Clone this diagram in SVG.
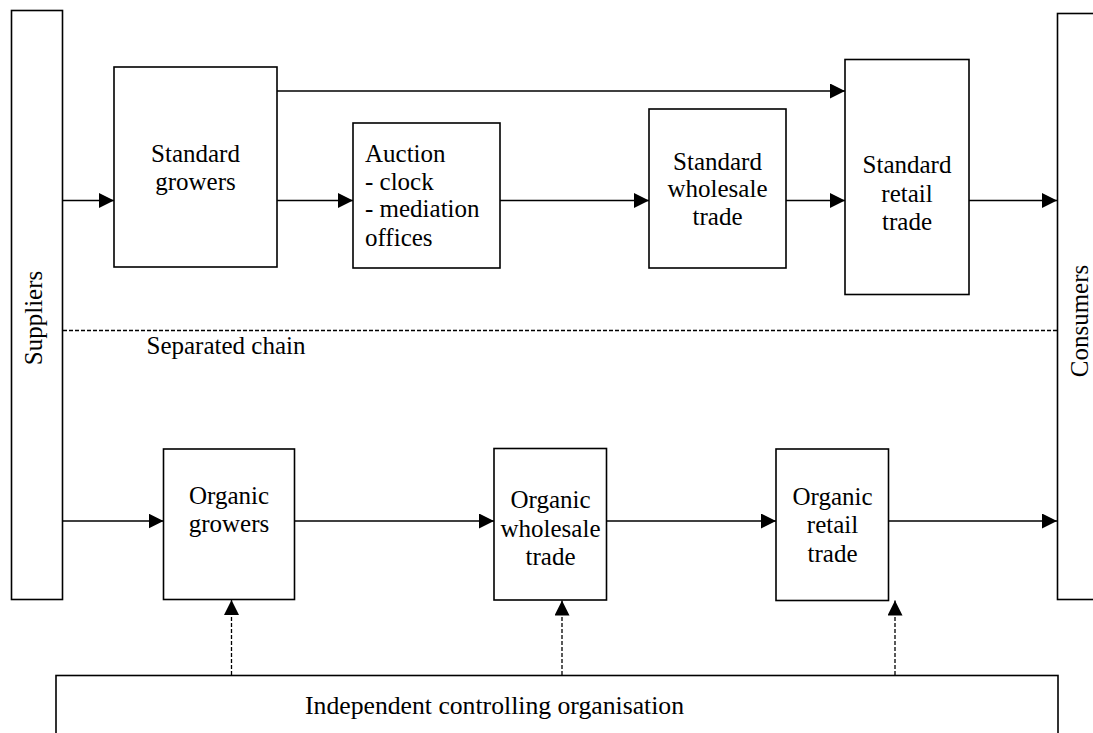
<svg xmlns="http://www.w3.org/2000/svg" width="1093" height="733" viewBox="0 0 1093 733" font-family="Liberation Serif, Tinos, Times New Roman, Times, Noto Serif, DejaVu Serif, serif">
<style>
.box{fill:#fff;stroke:#000;stroke-width:1.6}
.t{font-size:25px;fill:#000}
.m{text-anchor:middle}
.c{fill:none;stroke:#000;stroke-width:1.4}
.d{fill:none;stroke:#000;stroke-width:1.3;stroke-dasharray:4 2}
</style>
<defs>
<marker id="ah" markerUnits="userSpaceOnUse" markerWidth="16" markerHeight="16" refX="15" refY="7.5" orient="auto">
<path d="M0,0 L15,7.5 L0,15 z" fill="#000"/>
</marker>
</defs>
<rect width="1093" height="733" fill="#fff"/>
<g id="suppliers"><rect class="box" x="11.5" y="10.5" width="51" height="589"/><text class="t m" transform="translate(42,318) rotate(-90)">Suppliers</text></g>
<g id="consumers"><rect class="box" x="1057.5" y="13.5" width="50" height="586"/><text class="t m" transform="translate(1088,321) rotate(-90)">Consumers</text></g>
<g id="standard-growers"><rect class="box" x="114" y="67" width="163" height="200"/><text class="t m" x="195.5" y="162">Standard</text><text class="t m" x="195.5" y="190">growers</text></g>
<g id="auction"><rect class="box" x="353" y="123" width="147" height="145"/><text class="t" x="365" y="162">Auction</text><text class="t" x="365" y="189.5">- clock</text><text class="t" x="365" y="217">- mediation</text><text class="t" x="365" y="245.5">offices</text></g>
<g id="standard-wholesale"><rect class="box" x="649" y="109" width="137" height="159"/><text class="t m" x="717.5" y="169.5">Standard</text><text class="t m" x="717.5" y="197">wholesale</text><text class="t m" x="717.5" y="225">trade</text></g>
<g id="standard-retail"><rect class="box" x="845" y="59.5" width="124" height="235"/><text class="t m" x="907" y="173">Standard</text><text class="t m" x="907" y="201.5">retail</text><text class="t m" x="907" y="230">trade</text></g>
<g id="separator"><line class="d" x1="63" y1="330.5" x2="1057" y2="330.5" stroke-dasharray="3 2"/><text class="t" x="146.5" y="354" font-size="25.5">Separated chain</text></g>
<g id="organic-growers"><rect class="box" x="163.5" y="449" width="131" height="150.5"/><text class="t m" x="229" y="504">Organic</text><text class="t m" x="229" y="532">growers</text></g>
<g id="organic-wholesale"><rect class="box" x="494" y="448.5" width="112.5" height="151.5"/><text class="t m" x="550.5" y="508">Organic</text><text class="t m" x="550.5" y="536.5">wholesale</text><text class="t m" x="550.5" y="565">trade</text></g>
<g id="organic-retail"><rect class="box" x="776" y="449" width="112.5" height="151.5"/><text class="t m" x="832.5" y="505">Organic</text><text class="t m" x="832.5" y="533">retail</text><text class="t m" x="832.5" y="561.5">trade</text></g>
<g id="controlling"><rect class="box" x="56" y="675.5" width="1002" height="80"/><text class="t" x="305" y="714" style="font-size:25.7px">Independent controlling organisation</text></g>
<g id="connectors">
<line class="c" x1="63" y1="200.5" x2="114" y2="200.5" marker-end="url(#ah)"/>
<line class="c" x1="277" y1="91" x2="845" y2="91" marker-end="url(#ah)"/>
<line class="c" x1="277" y1="200.5" x2="353" y2="200.5" marker-end="url(#ah)"/>
<line class="c" x1="500" y1="200.5" x2="649" y2="200.5" marker-end="url(#ah)"/>
<line class="c" x1="786" y1="200.5" x2="845" y2="200.5" marker-end="url(#ah)"/>
<line class="c" x1="969" y1="200.5" x2="1057" y2="200.5" marker-end="url(#ah)"/>
<line class="c" x1="63" y1="521" x2="163.5" y2="521" marker-end="url(#ah)"/>
<line class="c" x1="294.5" y1="521" x2="494" y2="521" marker-end="url(#ah)"/>
<line class="c" x1="606.5" y1="521" x2="776" y2="521" marker-end="url(#ah)"/>
<line class="c" x1="888.5" y1="521" x2="1057" y2="521" marker-end="url(#ah)"/>
<line class="d" x1="231.5" y1="675" x2="231.5" y2="600" marker-end="url(#ah)"/>
<line class="d" x1="562" y1="675" x2="562" y2="600.5" marker-end="url(#ah)"/>
<line class="d" x1="895" y1="675" x2="895" y2="600.5" marker-end="url(#ah)"/>
</g>
</svg>
